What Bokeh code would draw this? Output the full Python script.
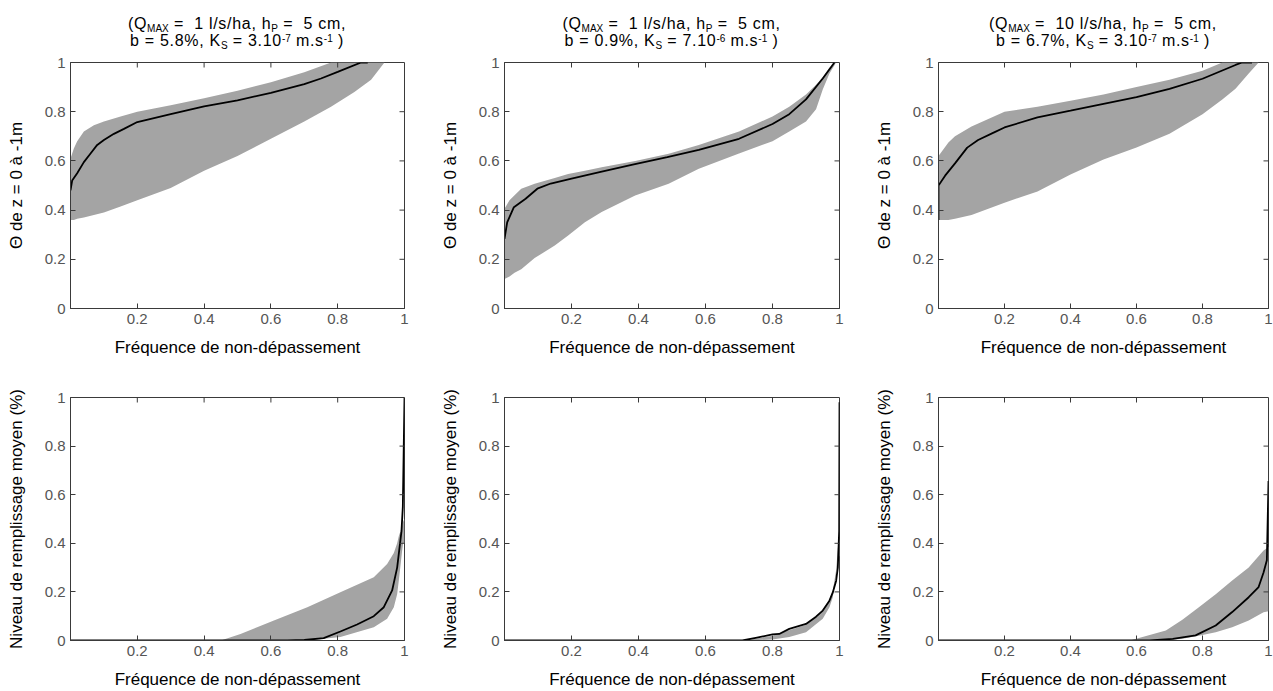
from bokeh.plotting import figure
from bokeh.models import Range1d, FixedTicker, Div
from bokeh.layouts import column, row
from bokeh.embed import file_html
from bokeh.resources import INLINE

# ---------------- data ----------------
# Panel A : top-left
A_band_x = [0, 0.01, 0.02, 0.04, 0.07, 0.1, 0.15, 0.2, 0.3, 0.4, 0.5, 0.6, 0.7, 0.78, 0.85, 0.9, 0.94]
A_band_lo = [0.36, 0.36, 0.365, 0.37, 0.38, 0.39, 0.415, 0.44, 0.49, 0.56, 0.62, 0.69, 0.76, 0.82, 0.88, 0.93, 1.0]
A_band_hi = [0.61, 0.65, 0.68, 0.72, 0.745, 0.76, 0.78, 0.80, 0.826, 0.855, 0.885, 0.92, 0.96, 1.0, 1.0, 1.0, 1.0]
A_med_x = [0, 0.005, 0.02, 0.04, 0.06, 0.08, 0.1, 0.13, 0.16, 0.2, 0.3, 0.4, 0.5, 0.6, 0.7, 0.75, 0.8, 0.87, 0.89]
A_med_y = [0.48, 0.52, 0.55, 0.595, 0.63, 0.665, 0.685, 0.71, 0.73, 0.758, 0.79, 0.822, 0.846, 0.877, 0.912, 0.935, 0.962, 1.0, 1.0]

# Panel B : top-middle
B_band_x = [0, 0.015, 0.03, 0.05, 0.09, 0.15, 0.19, 0.24, 0.29, 0.39, 0.49, 0.58, 0.7, 0.8, 0.85, 0.9, 0.93, 0.95, 0.97, 0.99]
B_band_lo = [0.12, 0.13, 0.145, 0.16, 0.205, 0.256, 0.297, 0.351, 0.392, 0.459, 0.507, 0.568, 0.63, 0.68, 0.72, 0.76, 0.81, 0.89, 0.955, 1.0]
B_band_hi = [0.405, 0.44, 0.46, 0.487, 0.507, 0.53, 0.547, 0.56, 0.574, 0.60, 0.629, 0.665, 0.72, 0.78, 0.82, 0.87, 0.91, 0.94, 0.98, 1.0]
B_med_x = [0, 0.008, 0.028, 0.063, 0.098, 0.138, 0.197, 0.287, 0.386, 0.486, 0.58, 0.7, 0.8, 0.85, 0.9, 0.95, 0.985]
B_med_y = [0.283, 0.35, 0.412, 0.446, 0.487, 0.508, 0.527, 0.555, 0.586, 0.615, 0.645, 0.69, 0.75, 0.79, 0.85, 0.935, 1.0]

# Panel C : top-right
C_band_x = [0, 0.03, 0.05, 0.1, 0.2, 0.3, 0.4, 0.5, 0.6, 0.7, 0.8, 0.86, 0.9, 0.94, 0.97]
C_band_lo = [0.36, 0.36, 0.365, 0.38, 0.43, 0.476, 0.545, 0.606, 0.654, 0.71, 0.79, 0.85, 0.893, 0.955, 1.0]
C_band_hi = [0.62, 0.675, 0.70, 0.74, 0.80, 0.82, 0.845, 0.87, 0.90, 0.93, 0.966, 1.0, 1.0, 1.0, 1.0]
C_med_x = [0, 0, 0.02, 0.05, 0.087, 0.12, 0.167, 0.2, 0.3, 0.4, 0.5, 0.6, 0.7, 0.8, 0.9, 0.92, 0.95]
C_med_y = [0.36, 0.50, 0.54, 0.59, 0.654, 0.685, 0.715, 0.736, 0.777, 0.804, 0.832, 0.859, 0.893, 0.934, 0.99, 1.0, 1.0]

# Panel D : bottom-left
D_band_x = [0, 0.45, 0.509, 0.609, 0.709, 0.808, 0.908, 0.948, 0.968, 0.978, 0.983, 0.993, 0.996, 1.0]
D_band_lo = [0, 0, 0, 0, 0, 0.014, 0.055, 0.089, 0.137, 0.19, 0.247, 0.37, 0.40, 0.40]
D_band_hi = [0, 0, 0.027, 0.082, 0.137, 0.199, 0.26, 0.315, 0.36, 0.40, 0.43, 0.47, 0.49, 0.50]
D_med_x = [0, 0.65, 0.7, 0.758, 0.808, 0.858, 0.908, 0.938, 0.963, 0.978, 0.991, 0.995, 1.0]
D_med_y = [0, 0, 0.002, 0.01, 0.037, 0.066, 0.10, 0.137, 0.206, 0.30, 0.45, 0.55, 1.0]

# Panel E : bottom-middle
E_band_x = [0, 0.72, 0.8, 0.85, 0.9, 0.95, 0.97, 0.98, 0.99, 0.995, 1.0]
E_band_lo = [0, 0, 0.004, 0.014, 0.034, 0.089, 0.137, 0.178, 0.273, 0.33, 0.35]
E_band_hi = [0, 0, 0.02, 0.042, 0.065, 0.125, 0.17, 0.205, 0.29, 0.38, 0.42]
E_med_x = [0, 0.71, 0.75, 0.8, 0.82, 0.85, 0.9, 0.93, 0.95, 0.97, 0.98, 0.99, 0.995, 0.999, 1.0]
E_med_y = [0, 0, 0.011, 0.025, 0.027, 0.048, 0.068, 0.098, 0.123, 0.164, 0.198, 0.246, 0.30, 0.45, 0.98]

# Panel F : bottom-right
F_band_x = [0, 0.58, 0.689, 0.739, 0.789, 0.84, 0.89, 0.94, 0.985, 1.0]
F_band_lo = [0, 0, 0, 0.007, 0.02, 0.034, 0.055, 0.082, 0.116, 0.12]
F_band_hi = [0, 0, 0.041, 0.085, 0.137, 0.19, 0.247, 0.30, 0.37, 0.385]
F_med_x = [0, 0.64, 0.71, 0.779, 0.84, 0.89, 0.94, 0.97, 0.985, 0.995, 1.0]
F_med_y = [0, 0, 0.007, 0.021, 0.062, 0.117, 0.178, 0.22, 0.28, 0.33, 0.656]

x_ticks = [0.2, 0.4, 0.6, 0.8, 1.0]
y_ticks = [0, 0.2, 0.4, 0.6, 0.8, 1.0]

SUB = "<span style='font-size:10px;letter-spacing:0;position:relative;top:3px;line-height:0'>{}</span>"
SUP = "<span style='font-size:10px;letter-spacing:0;position:relative;top:-4px;line-height:0'>{}</span>"
titles = [
    f"(Q{SUB.format('MAX')} = &nbsp;1 l/s/ha, h{SUB.format('P')} = &nbsp;5 cm,<br>"
    f"b = 5.8%, K{SUB.format('S')} = 3.10{SUP.format('-7')} m.s{SUP.format('-1')} )",
    f"(Q{SUB.format('MAX')} = &nbsp;1 l/s/ha, h{SUB.format('P')} = &nbsp;5 cm,<br>"
    f"b = 0.9%, K{SUB.format('S')} = 7.10{SUP.format('-6')} m.s{SUP.format('-1')} )",
    f"(Q{SUB.format('MAX')} = &nbsp;10 l/s/ha, h{SUB.format('P')} = &nbsp;5 cm,<br>"
    f"b = 6.7%, K{SUB.format('S')} = 3.10{SUP.format('-7')} m.s{SUP.format('-1')} )",
]
xlabel = "Fréquence de non-dépassement"
ylabel_top = "\u0398 de z = 0 à -1m"
ylabel_bot = "Niveau de remplissage moyen (%)"

FONT = "Liberation Sans"
BAND = "#a4a4a4"
FRAME = "#3a3a3a"

# ---------------- layout geometry ----------------
col_w = [430, 436, 407]
col_bl = [70, 74, 72]
col_br = [26, 27, 5]
title_h = 50
top_h, top_bt, top_bb = 312, 12, 54
bot_h, bot_bt, bot_bb = 329, 35, 51


def make_panel(i, h, bt, bb, ylab, bx, lo, hi, mx, my):
    p = figure(width=col_w[i], height=h, x_range=Range1d(0.0, 1.0), y_range=Range1d(0, 1),
               output_backend="svg", toolbar_location=None,
               min_border_left=col_bl[i], min_border_right=col_br[i],
               min_border_top=bt, min_border_bottom=bb,
               x_axis_label=xlabel, y_axis_label=ylab)
    p.grid.visible = False
    p.outline_line_color = FRAME
    p.outline_line_width = 1
    p.xaxis.ticker = FixedTicker(ticks=x_ticks)
    p.yaxis.ticker = FixedTicker(ticks=y_ticks)
    for ax in p.xaxis + p.yaxis:
        ax.axis_line_color = FRAME
        ax.major_tick_line_color = FRAME
        ax.major_tick_in = 5
        ax.major_tick_out = 0
        ax.minor_tick_line_color = None
        ax.major_label_text_font = FONT
        ax.major_label_text_font_size = "15px"
        ax.major_label_text_color = "#555555"
        ax.major_label_standoff = 5
        ax.axis_label_text_font = FONT
        ax.axis_label_text_font_size = "17px"
        ax.axis_label_text_font_style = "normal"
        ax.axis_label_text_color = "black"
    p.xaxis.axis_label_standoff = 11
    p.yaxis.axis_label_standoff = 16
    p.varea(x=bx, y1=lo, y2=hi, fill_color=BAND, fill_alpha=1.0)
    p.line(x=mx, y=my, line_color="black", line_width=1.8)
    # inward tick marks on the top and right edges of the box
    p.scatter(x=x_ticks[:-1], y=[1.0] * (len(x_ticks) - 1), marker="dash", angle=1.5708,
              size=10, line_color=FRAME, line_width=1)
    p.scatter(x=[1.0] * (len(y_ticks) - 2), y=y_ticks[1:-1], marker="dash",
              size=10, line_color=FRAME, line_width=1)
    return p


panels_top = [
    (A_band_x, A_band_lo, A_band_hi, A_med_x, A_med_y),
    (B_band_x, B_band_lo, B_band_hi, B_med_x, B_med_y),
    (C_band_x, C_band_lo, C_band_hi, C_med_x, C_med_y),
]
panels_bot = [
    (D_band_x, D_band_lo, D_band_hi, D_med_x, D_med_y),
    (E_band_x, E_band_lo, E_band_hi, E_med_x, E_med_y),
    (F_band_x, F_band_lo, F_band_hi, F_med_x, F_med_y),
]

divs, tops, bots = [], [], []
for i in range(3):
    fw = col_w[i] - col_bl[i] - col_br[i]
    html = (f"<div style=\"margin-left:{col_bl[i]}px;width:{fw}px;text-align:center;"
            f"font-family:'{FONT}',Arial,sans-serif;font-size:16px;line-height:17px;"
            f"letter-spacing:0.7px;padding-top:15px;color:black;white-space:nowrap;\">{titles[i]}</div>")
    divs.append(Div(text=html, width=col_w[i], height=title_h, margin=0))
    tops.append(make_panel(i, top_h, top_bt, top_bb, ylabel_top, *panels_top[i]))
    bots.append(make_panel(i, bot_h, bot_bt, bot_bb, ylabel_bot, *panels_bot[i]))

layout = column(row(*divs, spacing=0), row(*tops, spacing=0), row(*bots, spacing=0), spacing=0)

with open("out.html", "w") as f:
    f.write(file_html(layout, INLINE))
